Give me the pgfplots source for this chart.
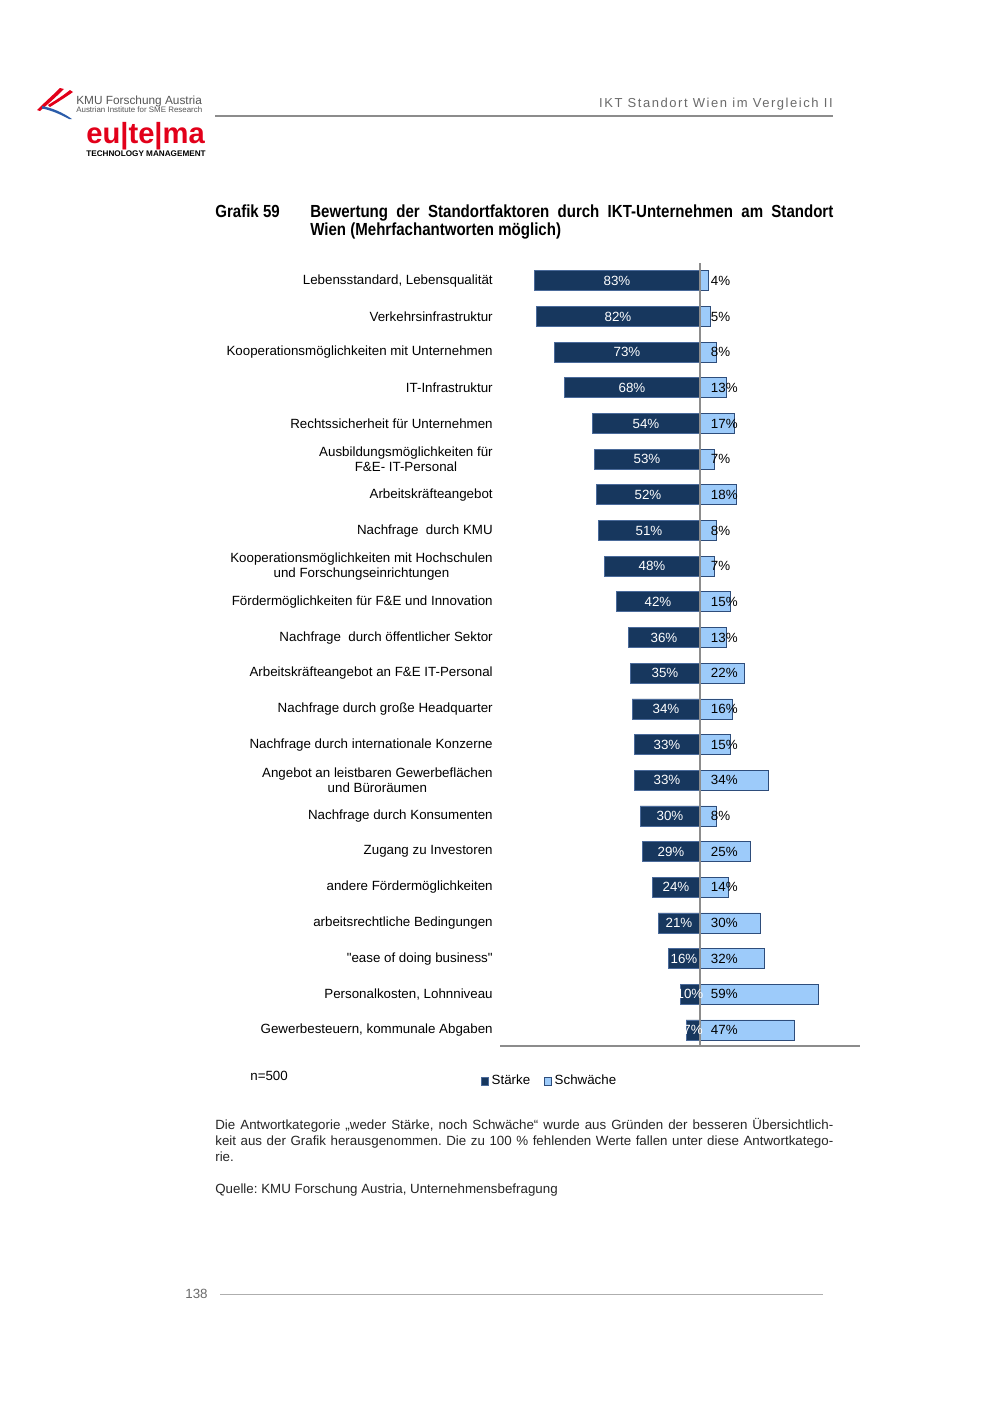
\documentclass[border=0pt]{standalone}
\usepackage{fontspec}
\setmainfont{Liberation Sans}[Ligatures=TeXOff]
\newfontfamily\titlefont[FakeStretch=0.86]{Liberation Sans}
\newfontfamily\spacedfont[LetterSpace=12]{Liberation Sans}
\usepackage{pgfplots}
\pgfplotsset{compat=1.18}
\usepackage{pgfplotstable}
\definecolor{navy}{HTML}{17375E}
\definecolor{navyedge}{HTML}{4A6A9A}
\definecolor{lightb}{HTML}{9DCBFA}
\definecolor{lightedge}{HTML}{2E4D7B}
\definecolor{axgray}{HTML}{8C8C8C}
\definecolor{eured}{HTML}{E2001A}
\definecolor{kmublue}{HTML}{2A5CAA}
\definecolor{logogray}{HTML}{555555}
\definecolor{hdrgray}{HTML}{6A6A6A}
\definecolor{fngray}{HTML}{262626}
\frenchspacing

\pgfplotstableread{
y s w
0 83 4
1 82 5
2 73 8
3 68 13
4 54 17
5 53 7
6 52 18
7 51 8
8 48 7
9 42 15
10 36 13
11 35 22
12 34 16
13 33 15
14 33 34
15 30 8
16 29 25
17 24 14
18 21 30
19 16 32
20 10 59
21 7 47
}\data

\begin{document}
\frenchspacing
\begin{tikzpicture}
\path[use as bounding box, fill=white] (0,0) rectangle (600pt,-848.4pt);
\begin{scope}[x=0.6pt, y=-0.6pt]
% logo KMU
\fill[eured] (60,88) -- (64,89) .. controls (56,97) and (48,104) .. (40,111) -- (37,110) .. controls (45,102) and (53,95) .. cycle;
\fill[eured] (70,90) -- (73,92) .. controls (66,97) and (58,102) .. (50,107) -- (48,105) .. controls (56,100) and (64,95) .. cycle;
\fill[kmublue] (42,106) .. controls (52,108) and (62,112) .. (72,119) -- (69,119) .. controls (60,114) and (50,110) .. (42,108.5) -- cycle;
\node[anchor=base west, inner sep=0, text=logogray, font=\fontsize{7.1}{8}\selectfont] at (76,104) {KMU Forschung Austria};
\node[anchor=base west, inner sep=0, text=logogray, font=\fontsize{4.75}{6}\selectfont] at (76,112) {Austrian Institute for SME Research};
\node[anchor=base west, inner sep=0, text=eured, font=\bfseries\fontsize{17.5}{20}\selectfont] at (86,143) {eu|te|ma};
\node[anchor=base west, inner sep=0, font=\bfseries\fontsize{4.9}{6}\selectfont] at (86,156) {TECHNOLOGY MANAGEMENT};
% header
\draw[axgray, line width=0.7pt] (215,116) -- (833,116);
\node[anchor=base east, inner sep=0, text=hdrgray, font=\spacedfont\fontsize{7.8}{9}\selectfont] at (833,107) {IKT Standort Wien im Vergleich II};
% title
\node[anchor=base west, inner sep=0, font=\titlefont\bfseries\fontsize{10.5}{10.8}\selectfont] at (215,217) {Grafik 59};
\node[anchor=base west, inner sep=0, font=\titlefont\bfseries\fontsize{10.5}{10.8}\selectfont] at (310,217) {\makebox[313.8pt][s]{Bewertung der Standortfaktoren durch IKT-Unternehmen am Standort}};
\node[anchor=base west, inner sep=0, font=\titlefont\bfseries\fontsize{10.5}{10.8}\selectfont] at (310,235) {Wien (Mehrfachantworten möglich)};
% n
\node[anchor=base west, inner sep=0, font=\fontsize{8}{9.6}\selectfont] at (250,1080) {n=500};
% footnote
\node[anchor=base west, inner sep=0, text=fngray, font=\fontsize{8}{9.6}\selectfont] at (215,1129) {\makebox[370.8pt][s]{Die Antwortkategorie „weder Stärke, noch Schwäche“ wurde aus Gründen der besseren Übersichtlich-}};
\node[anchor=base west, inner sep=0, text=fngray, font=\fontsize{8}{9.6}\selectfont] at (215,1145) {\makebox[370.8pt][s]{keit aus der Grafik herausgenommen. Die zu 100 \% fehlenden Werte fallen unter diese Antwortkatego-}};
\node[anchor=base west, inner sep=0, text=fngray, font=\fontsize{8}{9.6}\selectfont] at (215,1161) {rie.};
\node[anchor=base west, inner sep=0, text=fngray, font=\fontsize{8}{9.6}\selectfont] at (215,1193) {Quelle: KMU Forschung Austria, Unternehmensbefragung};
% footer
\node[anchor=base west, inner sep=0, text=hdrgray, font=\fontsize{8}{9.6}\selectfont] at (185,1298) {138};
\draw[axgray!70, line width=0.5pt] (220,1294) -- (823,1294);
\end{scope}

\begin{axis}[
  at={(300pt,-627.6pt)}, anchor=south west,
  scale only axis, width=216pt, height=469.8pt,
  xmin=-100, xmax=80, ymin=-0.5, ymax=21.45,
  y dir=reverse,
  /pgf/number format/assume math mode=true,
  axis line style={draw=none},
  xtick=\empty,
  ytick={0,...,21},
  yticklabels={
    {Lebensstandard, Lebensqualität},
    {Verkehrsinfrastruktur},
    {Kooperationsmöglichkeiten mit Unternehmen},
    {IT-Infrastruktur},
    {Rechtssicherheit für Unternehmen},
    {Ausbildungsmöglichkeiten für\\F\&E- IT-Personal},
    {Arbeitskräfteangebot},
    {Nachfrage\ \ durch KMU},
    {Kooperationsmöglichkeiten mit Hochschulen\\und Forschungseinrichtungen},
    {Fördermöglichkeiten für F\&E und Innovation},
    {Nachfrage\ \ durch öffentlicher Sektor},
    {Arbeitskräfteangebot an F\&E IT-Personal},
    {Nachfrage durch große Headquarter},
    {Nachfrage durch internationale Konzerne},
    {Angebot an leistbaren Gewerbeflächen\\und Büroräumen},
    {Nachfrage durch Konsumenten},
    {Zugang zu Investoren},
    {andere Fördermöglichkeiten},
    {arbeitsrechtliche Bedingungen},
    {"ease of doing business"},
    {Personalkosten, Lohnniveau},
    {Gewerbesteuern, kommunale Abgaben}},
  major tick length=0pt,
  yticklabel style={font=\fontsize{8}{9}\selectfont, align=center, inner sep=0pt, xshift=-4.2pt},
  clip=false,
  legend style={draw=none, fill=none, legend columns=2, font=\fontsize{8}{9.6}\selectfont,
    at={(axis description cs:0.139,-0.045)}, anchor=center, inner sep=0pt,
    /tikz/every even column/.append style={column sep=6pt}},
  legend image code/.code={\draw[#1] (0pt,-2.4pt) rectangle (4.2pt,2.4pt);},
]
\addplot[xbar, bar width=12pt, bar shift=0pt, fill=navy, draw=navyedge, line width=0.5pt]
  table[x expr=-\thisrow{s}, y=y]{\data};
\addlegendentry{Stärke}
\addplot[xbar, bar width=12pt, bar shift=0pt, fill=lightb, draw=lightedge, line width=0.5pt]
  table[x=w, y=y]{\data};
\addlegendentry{Schwäche}
\draw[axgray, line width=0.7pt] (axis cs:-100,21.45) -- (axis cs:80,21.45);
\draw[axgray, line width=0.7pt] (axis cs:0,-0.5) -- (axis cs:0,21.45);
\addplot[only marks, mark=none, forget plot, point meta=explicit,
  nodes near coords={\pgfmathprintnumber{\pgfplotspointmeta}\%},
  every node near coord/.append style={anchor=center, text=white, inner sep=0pt, font=\fontsize{8}{9.6}\selectfont}]
  table[x expr=-\thisrow{s}/2, y=y, meta=s]{\data};
\addplot[only marks, mark=none, forget plot, point meta=explicit,
  nodes near coords={\pgfmathprintnumber{\pgfplotspointmeta}\%},
  every node near coord/.append style={anchor=west, text=black, inner sep=0pt, font=\fontsize{8}{9.6}\selectfont}]
  table[x expr=5.3, y=y, meta=w]{\data};
\end{axis}
\end{tikzpicture}
\end{document}
